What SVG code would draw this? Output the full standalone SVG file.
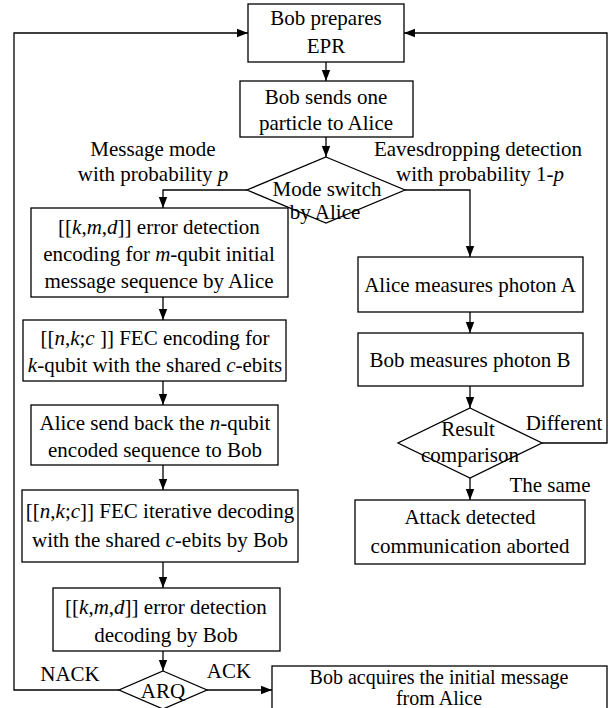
<svg xmlns="http://www.w3.org/2000/svg" width="609" height="708" viewBox="0 0 609 708">
<style>
text{font-family:"Liberation Serif","Times New Roman",serif;font-size:21px;fill:#000;text-anchor:middle}
.i{font-style:italic}
.s{font-size:20px}
.box{fill:#fff;stroke:#000;stroke-width:1.3}
.c{fill:none;stroke:#000;stroke-width:1.3}
</style>
<defs>
<marker id="ah" markerWidth="12" markerHeight="10" refX="11" refY="5" orient="auto" markerUnits="userSpaceOnUse">
<path d="M0,0.8 L11,5 L0,9.2 Z" fill="#000"/>
</marker>
</defs>
<rect width="609" height="708" fill="#fff"/>
<g id="connectors">
<path class="c" d="M326,62 V81" marker-end="url(#ah)"/>
<path class="c" d="M326,137 V157" marker-end="url(#ah)"/>
<path class="c" d="M247,190 H163 V208" marker-end="url(#ah)"/>
<path class="c" d="M405,190 H470 V257" marker-end="url(#ah)"/>
<path class="c" d="M470,312 V333" marker-end="url(#ah)"/>
<path class="c" d="M470,386 V408" marker-end="url(#ah)"/>
<path class="c" d="M470,478 V500" marker-end="url(#ah)"/>
<path class="c" d="M542,443 H607 V33 H404" marker-end="url(#ah)"/>
<path class="c" d="M163,297 V320" marker-end="url(#ah)"/>
<path class="c" d="M163,381 V405" marker-end="url(#ah)"/>
<path class="c" d="M163,465 V490" marker-end="url(#ah)"/>
<path class="c" d="M163,562 V588" marker-end="url(#ah)"/>
<path class="c" d="M163,651 V671" marker-end="url(#ah)"/>
<path class="c" d="M119,690 H14 V33 H248" marker-end="url(#ah)"/>
<path class="c" d="M207,690 H272" marker-end="url(#ah)"/>
</g>
<g id="n-prepare">
<rect class="box" x="248" y="4" width="156" height="58"/>
<text x="326" y="25">Bob prepares</text>
<text x="326" y="53">EPR</text>
</g>
<g id="n-send">
<rect class="box" x="240" y="81" width="173" height="56"/>
<text x="326" y="104">Bob sends one</text>
<text x="326" y="130">particle to Alice</text>
</g>
<g id="n-mode">
<polygon class="box" points="326,157 405,190 326,223 247,190"/>
<text x="327" y="196">Mode switch</text>
<text x="325" y="219">by Alice</text>
</g>
<g id="l-message">
<text x="153" y="156">Message mode</text>
<text x="153" y="181">with probability <tspan class="i">p</tspan></text>
</g>
<g id="l-eaves">
<text x="478" y="156">Eavesdropping detection</text>
<text x="480" y="181">with probability 1-<tspan class="i">p</tspan></text>
</g>
<g id="n-edenc">
<rect class="box" x="31" y="208" width="257" height="89"/>
<text x="159" y="234">[[<tspan class="i">k</tspan>,<tspan class="i">m</tspan>,<tspan class="i">d</tspan>]] error detection</text>
<text x="159" y="261">encoding for <tspan class="i">m</tspan>-qubit initial</text>
<text x="159" y="288">message sequence by Alice</text>
</g>
<g id="n-fecenc">
<rect class="box" x="23" y="320" width="263" height="61"/>
<text x="155" y="345">[[<tspan class="i">n</tspan>,<tspan class="i">k</tspan>;<tspan class="i">c</tspan> ]] FEC encoding for</text>
<text x="155" y="372"><tspan class="i">k</tspan>-qubit with the shared <tspan class="i">c</tspan>-ebits</text>
</g>
<g id="n-sendback">
<rect class="box" x="31" y="405" width="247" height="60"/>
<text x="155" y="430">Alice send back the <tspan class="i">n</tspan>-qubit</text>
<text x="155" y="457">encoded sequence to Bob</text>
</g>
<g id="n-fecdec">
<rect class="box" x="22" y="490" width="276" height="72"/>
<text x="160" y="518">[[<tspan class="i">n</tspan>,<tspan class="i">k</tspan>;<tspan class="i">c</tspan>]] FEC iterative decoding</text>
<text x="160" y="547">with the shared <tspan class="i">c</tspan>-ebits by Bob</text>
</g>
<g id="n-eddec">
<rect class="box" x="53" y="588" width="227" height="63"/>
<text x="166" y="614">[[<tspan class="i">k</tspan>,<tspan class="i">m</tspan>,<tspan class="i">d</tspan>]] error detection</text>
<text x="166" y="642">decoding by Bob</text>
</g>
<g id="n-arq">
<polygon class="box" points="163,671 207,690 163,709 119,690"/>
<text x="163" y="698">ARQ</text>
</g>
<text x="70" y="681">NACK</text>
<text x="229" y="678">ACK</text>
<g id="n-acquire">
<rect class="box" x="272" y="666" width="335" height="60"/>
<text class="s" x="439" y="684">Bob acquires the initial message</text>
<text class="s" x="439" y="705">from Alice</text>
</g>
<g id="n-measA">
<rect class="box" x="358" y="257" width="225" height="55"/>
<text x="470" y="292">Alice measures photon A</text>
</g>
<g id="n-measB">
<rect class="box" x="358" y="333" width="225" height="53"/>
<text x="470" y="367">Bob measures photon B</text>
</g>
<g id="n-result">
<polygon class="box" points="470,408 542,443 470,478 398,443"/>
<text x="468" y="436">Result</text>
<text x="470" y="462">comparison</text>
</g>
<text x="564" y="430">Different</text>
<text x="550" y="492">The same</text>
<g id="n-attack">
<rect class="box" x="355" y="500" width="230" height="64"/>
<text x="470" y="524">Attack detected</text>
<text x="470" y="553">communication aborted</text>
</g>
</svg>
